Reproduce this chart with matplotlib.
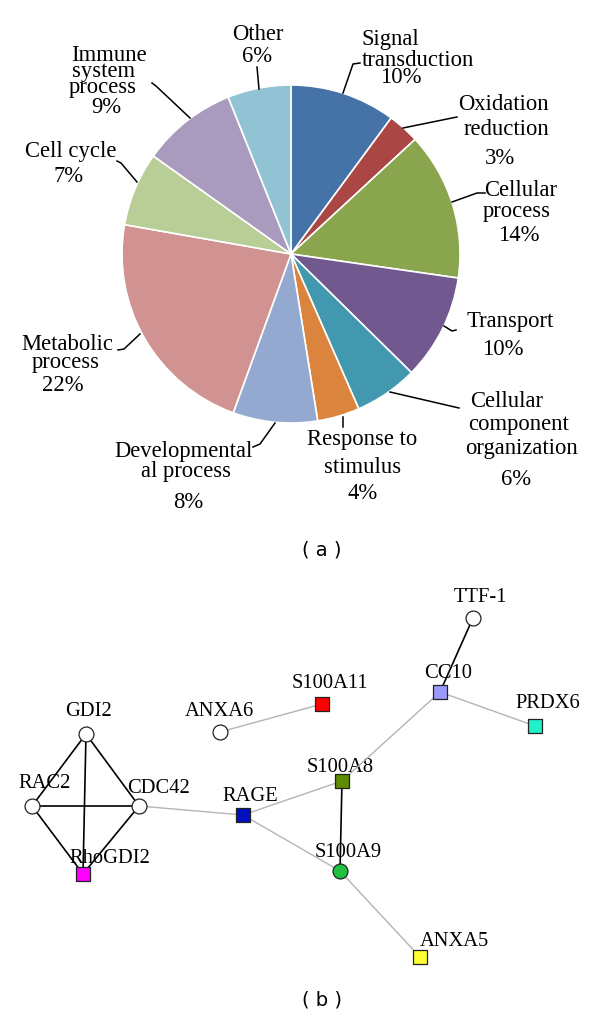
import matplotlib
matplotlib.use('Agg')
import matplotlib.pyplot as plt

W, H = 600, 1015

# ---- (a) GO category pie ----
categories = ['Signal\ntransduction', 'Oxidation\nreduction', 'Cellular\nprocess', 'Transport',
              'Cellular\ncomponent\norganization', 'Response to\nstimulus',
              'Developmental\nal process', 'Metabolic\nprocess', 'Cell cycle',
              'Immune\nsystem\nprocess', 'Other']
percents = [10, 3, 14, 10, 6, 4, 8, 22, 7, 9, 6]
pie_colors = ['#4572a7', '#aa4643', '#89a54e', '#71588f', '#4198af', '#db843d',
              '#93a9cf', '#d19392', '#b9cd96', '#a99bbd', '#92c3d4']

# ---- (b) interaction network ----
node_names = ['TTF-1', 'CC10', 'PRDX6', 'S100A11', 'ANXA6', 'GDI2', 'RAC2', 'CDC42',
              'RhoGDI2', 'RAGE', 'S100A8', 'S100A9', 'ANXA5']
node_x = [473, 440, 535, 322, 220, 86, 32, 139, 83, 243, 342, 340, 420]
node_y = [618, 692, 726, 704, 732, 734, 806, 806, 874, 815, 781, 871, 957]
node_shape = ['o', 's', 's', 's', 'o', 'o', 'o', 'o', 's', 's', 's', 'o', 's']
node_color = ['white', '#9999ff', '#22f0c8', '#ff0000', 'white', 'white', 'white', 'white',
              '#ff00ff', '#0010c0', '#5f8c00', '#20c040', '#ffff33']
edges = [('TTF-1', 'CC10', 'black'), ('CC10', 'PRDX6', 'gray'), ('CC10', 'S100A8', 'gray'),
         ('ANXA6', 'S100A11', 'gray'), ('GDI2', 'RAC2', 'black'), ('GDI2', 'CDC42', 'black'),
         ('GDI2', 'RhoGDI2', 'black'), ('RAC2', 'CDC42', 'black'), ('RAC2', 'RhoGDI2', 'black'),
         ('CDC42', 'RhoGDI2', 'black'), ('CDC42', 'RAGE', 'gray'), ('RAGE', 'S100A8', 'gray'),
         ('RAGE', 'S100A9', 'gray'), ('S100A8', 'S100A9', 'black'), ('S100A9', 'ANXA5', 'gray')]

# label placement (pixels): one (x, baseline) per text line, leader polylines
pie_label_lines = [
    [(390, 45), (418, 66), (401, 83)],
    [(503, 110), (506, 135), (500, 164)],
    [(521, 196), (517, 217), (519, 241)],
    [(510, 327), (503, 355)],
    [(507, 407), (519, 430), (522, 454), (516, 485)],
    [(362, 445), (363, 473), (363, 499)],
    [(184, 457), (186, 477), (188, 508)],
    [(67, 350), (66, 368), (63, 391)],
    [(71, 157), (69, 182)],
    [(109, 61), (104, 77), (103, 93), (106, 113)],
    [(258, 40), (257, 62)],
]
leaders = [
    [(360, 63), (353, 64), (343, 93)],
    [(457, 117), (403, 128)],
    [(485, 193), (477, 193), (452, 202)],
    [(456, 330), (452, 331), (444, 326)],
    [(459, 408), (390, 392)],
    [(343, 417), (343, 427)],
    [(253, 447), (260, 444), (275, 423)],
    [(118, 350), (124, 349), (140, 334)],
    [(117, 161), (121, 163), (137, 182)],
    [(152, 83), (156, 86), (190, 118)],
    [(257, 67), (259, 89)],
]
net_label_offset = {'TTF-1': (7, -16), 'CC10': (8, -14), 'PRDX6': (13, -18),
                    'S100A11': (8, -16), 'ANXA6': (-1, -16), 'GDI2': (2, -18),
                    'RAC2': (13, -18), 'CDC42': (20, -13), 'RhoGDI2': (27, -11),
                    'RAGE': (7, -14), 'S100A8': (-2, -9), 'S100A9': (8, -14),
                    'ANXA5': (34, -11)}

fig = plt.figure(figsize=(W / 100, H / 100), dpi=100)
ax = fig.add_axes([0, 0, 1, 1])

# y axis is inverted below, so startangle -90 + counterclock gives clockwise from the top
ax.pie(percents, colors=pie_colors, startangle=-90, counterclock=True,
       center=(291, 254), radius=169,
       wedgeprops=dict(edgecolor='white', linewidth=1.2))

serif = 'Liberation Serif'
for name, pct, lines, lead in zip(categories, percents, pie_label_lines, leaders):
    texts = name.split('\n') + ['%d%%' % pct]
    for t, (x, y) in zip(texts, lines):
        ax.text(x, y, t, ha='center', va='baseline', fontsize=16.3, family=serif)
    ax.plot([p[0] for p in lead], [p[1] for p in lead], color='black', lw=1.1)

ax.text(322, 550, '( a )', ha='center', va='center', fontsize=14, family='DejaVu Sans')

# network
pos = {n: (x, y) for n, x, y in zip(node_names, node_x, node_y)}
for a, b, kind in edges:
    if kind == 'black':
        ax.plot([pos[a][0], pos[b][0]], [pos[a][1], pos[b][1]], color='black', lw=1.2, zorder=3)
    else:
        ax.plot([pos[a][0], pos[b][0]], [pos[a][1], pos[b][1]], color='#b4b4b4', lw=1.0, zorder=3)

for n, x, y, m, c in zip(node_names, node_x, node_y, node_shape, node_color):
    size = 115 if m == 'o' else 95
    ax.scatter(x, y, s=size, marker=m, facecolor=c, edgecolor='#222222', linewidth=0.9, zorder=4)
    dx, dy = net_label_offset[n]
    ax.text(x + dx, y + dy, n, ha='center', va='baseline', fontsize=14.8, family=serif, zorder=2)

ax.text(322, 1000, '( b )', ha='center', va='center', fontsize=14, family='DejaVu Sans')

ax.set_xlim(0, W)
ax.set_ylim(H, 0)
ax.set_aspect('auto')
ax.axis('off')

fig.savefig('out.png', dpi=100, facecolor='white')
